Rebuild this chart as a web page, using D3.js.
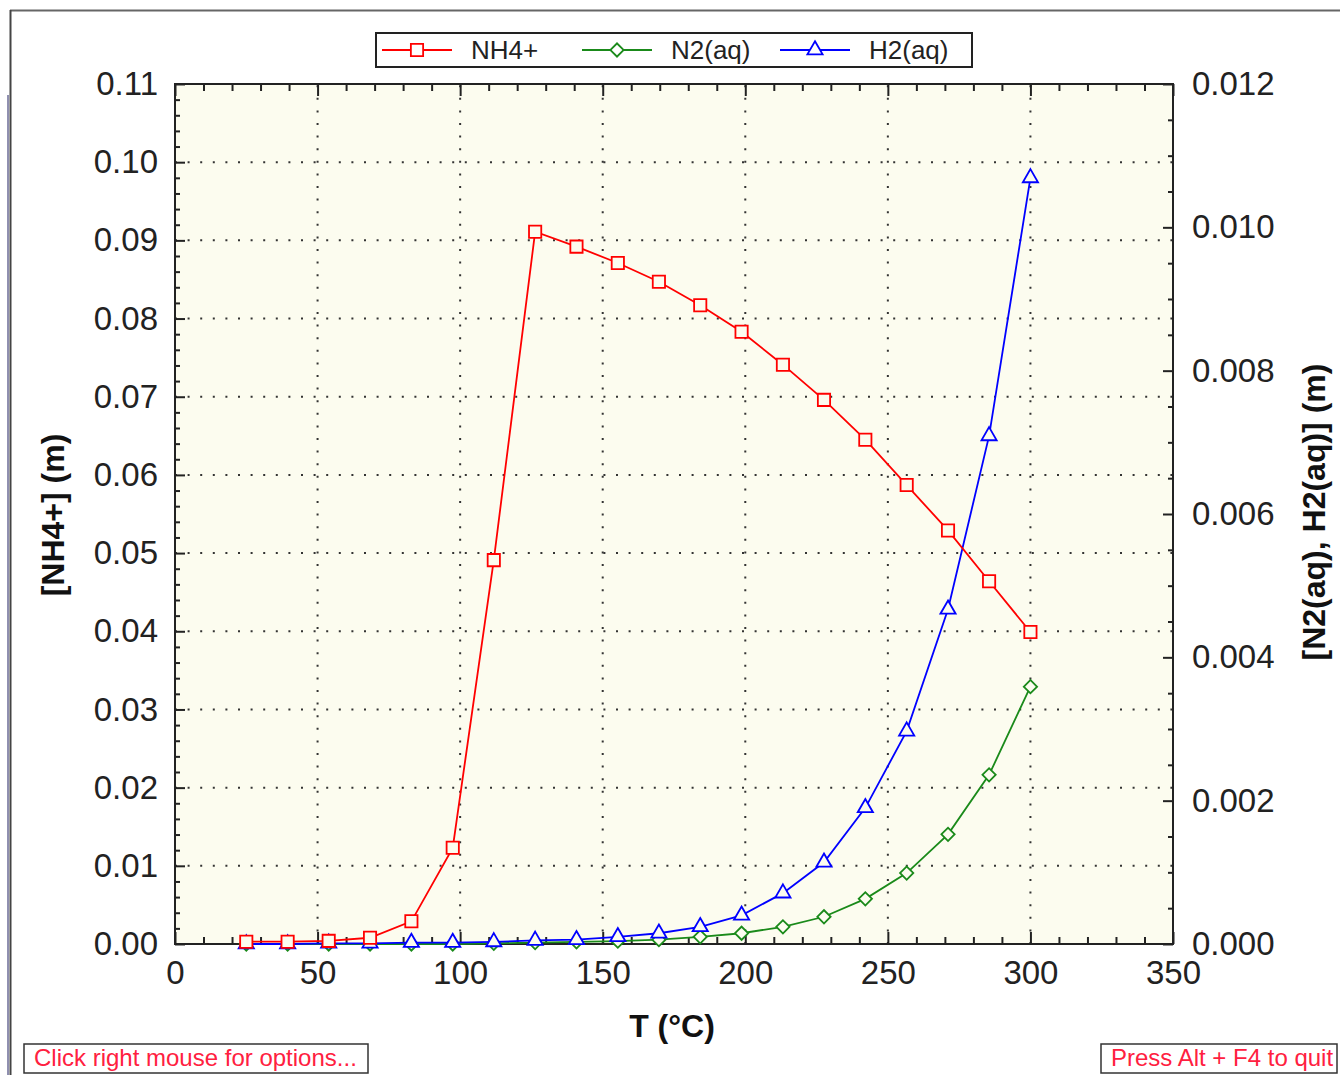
<!DOCTYPE html>
<html>
<head>
<meta charset="utf-8">
<script src="https://cdn.jsdelivr.net/npm/d3@7"></script>
<style>
  html, body { margin: 0; padding: 0; background: #ffffff; }
  svg { display: block; font-family: "Liberation Sans", Arial, sans-serif; }
</style>
</head>
<body>
<svg id="chart" width="1340" height="1075"></svg>
<script>
// ---- data ----
const temperature = [25, 39.5, 53.9, 68.4, 82.9, 97.4, 111.8, 126.3, 140.8, 155.3, 169.7, 184.2, 198.7, 213.2, 227.6, 242.1, 256.6, 271.1, 285.5, 300];
const nh4 = [0.0003, 0.0003, 0.0004, 0.0008, 0.0029, 0.0123, 0.0491, 0.0911, 0.0892, 0.0871, 0.0847, 0.0817, 0.0783, 0.0741, 0.0696, 0.0645, 0.0587, 0.0529, 0.0464, 0.0399];
const n2aq = [0, 0, 0, 0, 0, 0, 0.00001, 0.00002, 0.00003, 0.00004, 0.00006, 0.0001, 0.00015, 0.00024, 0.00038, 0.00063, 0.00099, 0.00153, 0.00236, 0.00359];
const h2aq = [0, 0, 0.00001, 0.00001, 0.00002, 0.00002, 0.00003, 0.00005, 0.00006, 0.0001, 0.00015, 0.00024, 0.0004, 0.00071, 0.00114, 0.0019, 0.00297, 0.00467, 0.00709, 0.01069];
const seriesNames = ["NH4+", "N2(aq)", "H2(aq)"];
const xTicks = [0, 50, 100, 150, 200, 250, 300, 350];
const yLeftTicks = [0, 0.01, 0.02, 0.03, 0.04, 0.05, 0.06, 0.07, 0.08, 0.09, 0.10, 0.11];
const yRightTicks = [0, 0.002, 0.004, 0.006, 0.008, 0.010, 0.012];
const xLabel = "T (°C)";
const yLeftLabel = "[NH4+] (m)";
const yRightLabel = "[N2(aq), H2(aq)] (m)";
const noteLeft = "Click right mouse for options...";
const noteRight = "Press Alt + F4 to quit";

// ---- layout ----
const svg = d3.select("#chart");
const L = 175, R = 1173, T = 84, B = 944;
const bg = "#fcfcef";
const x = d3.scaleLinear().domain([0, 350]).range([L, R]);
const yL = d3.scaleLinear().domain([0, 0.11]).range([B, T]);
const yR = d3.scaleLinear().domain([0, 0.012]).range([B, T]);

// window frame
svg.append("line").attr("x1", 10).attr("x2", 1340).attr("y1", 10.5).attr("y2", 10.5).attr("stroke", "#666").attr("stroke-width", 2);
svg.append("line").attr("x1", 10.5).attr("x2", 10.5).attr("y1", 10).attr("y2", 1075).attr("stroke", "#444").attr("stroke-width", 2);
svg.append("line").attr("x1", 8).attr("x2", 8).attr("y1", 95).attr("y2", 1075).attr("stroke", "#202060").attr("stroke-width", 1);

// plot background
svg.append("rect").attr("x", L).attr("y", T).attr("width", R - L).attr("height", B - T).attr("fill", bg);

// grid
const grid = svg.append("g").attr("stroke", "#333").attr("stroke-width", 2).attr("stroke-dasharray", "2,10.6");
xTicks.filter(d => d > 0 && d < 350).forEach(d => {
  grid.append("line").attr("x1", x(d)).attr("x2", x(d)).attr("y1", B).attr("y2", T);
});
yLeftTicks.filter(d => d > 0 && d < 0.11).forEach(d => {
  grid.append("line").attr("x1", L).attr("x2", R).attr("y1", yL(d)).attr("y2", yL(d));
});

// axes
const tickFont = "33px";
function styleAxis(g) {
  g.select(".domain").remove();
  g.selectAll(".tick line").attr("stroke", "#222").attr("stroke-width", 2);
  g.selectAll("text").attr("fill", "#222").style("font-size", tickFont).style("font-family", "'Liberation Sans', Arial, sans-serif");
}
const xMinor = d3.range(0, 351, 10).filter(d => d % 50 !== 0);
svg.append("g").attr("transform", `translate(0,${B})`)
  .call(d3.axisBottom(x).tickValues(xTicks).tickFormat(d3.format("d")).tickSizeInner(-12).tickSizeOuter(0).tickPadding(17))
  .call(styleAxis);
svg.append("g").attr("transform", `translate(0,${B})`)
  .call(d3.axisBottom(x).tickValues(xMinor).tickFormat("").tickSizeInner(-7).tickSizeOuter(0))
  .call(styleAxis);
svg.append("g").attr("transform", `translate(0,${T})`)
  .call(d3.axisTop(x).tickValues(xTicks).tickFormat("").tickSizeInner(-12).tickSizeOuter(0))
  .call(styleAxis);
svg.append("g").attr("transform", `translate(0,${T})`)
  .call(d3.axisTop(x).tickValues(xMinor).tickFormat("").tickSizeInner(-7).tickSizeOuter(0))
  .call(styleAxis);

const yLMinor = d3.range(0, 56).map(i => i * 0.002).filter((d, i) => i % 5 !== 0);
svg.append("g").attr("transform", `translate(${L},0)`)
  .call(d3.axisLeft(yL).tickValues(yLeftTicks).tickFormat(d3.format(".2f")).tickSizeInner(-10).tickSizeOuter(0).tickPadding(17))
  .call(styleAxis);
svg.append("g").attr("transform", `translate(${L},0)`)
  .call(d3.axisLeft(yL).tickValues(yLMinor).tickFormat("").tickSizeInner(-5).tickSizeOuter(0))
  .call(styleAxis);

const yRMinor = d3.range(0, 25).map(i => i * 0.0005).filter((d, i) => i % 4 !== 0);
svg.append("g").attr("transform", `translate(${R},0)`)
  .call(d3.axisRight(yR).tickValues(yRightTicks).tickFormat(d3.format(".3f")).tickSizeInner(-10).tickSizeOuter(0).tickPadding(19))
  .call(styleAxis);
svg.append("g").attr("transform", `translate(${R},0)`)
  .call(d3.axisRight(yR).tickValues(yRMinor).tickFormat("").tickSizeInner(-5).tickSizeOuter(0))
  .call(styleAxis);

// frame
svg.append("rect").attr("x", L).attr("y", T).attr("width", R - L).attr("height", B - T)
  .attr("fill", "none").attr("stroke", "#222").attr("stroke-width", 2);

// series
const symSquare = d3.symbol().type(d3.symbolSquare).size(150);
const symDiamond = d3.symbol().type(d3.symbolSquare).size(88); // drawn rotated 45°
const symTriangle = d3.symbol().type(d3.symbolTriangle).size(100);
const series = [
  { name: seriesNames[0], values: nh4, scale: yL, color: "#ff0000", sym: symSquare, rot: 0 },
  { name: seriesNames[1], values: n2aq, scale: yR, color: "#1a8a1a", sym: symDiamond, rot: 45 },
  { name: seriesNames[2], values: h2aq, scale: yR, color: "#0000ff", sym: symTriangle, rot: 0 }
];
// draw in order: N2, H2, NH4 on top
[series[1], series[2], series[0]].forEach(s => {
  const pts = temperature.map((t, i) => [t, s.values[i]]);
  const line = d3.line().x(d => x(d[0])).y(d => s.scale(d[1]));
  svg.append("path").datum(pts).attr("d", line).attr("fill", "none")
    .attr("stroke", s.color).attr("stroke-width", 1.8);
  svg.append("g").selectAll("path").data(pts).join("path")
    .attr("d", s.sym)
    .attr("transform", d => `translate(${x(d[0])},${s.scale(d[1])}) rotate(${s.rot})`)
    .attr("fill", bg).attr("stroke", s.color).attr("stroke-width", 1.8);
});

// axis titles
svg.append("text").attr("x", 672).attr("y", 1037).attr("text-anchor", "middle")
  .style("font-size", "32px").style("font-weight", "bold").attr("fill", "#111").text(xLabel);
svg.append("text").attr("transform", "translate(64,515) rotate(-90)").attr("text-anchor", "middle")
  .style("font-size", "32px").style("font-weight", "bold").attr("fill", "#111").text(yLeftLabel);
svg.append("text").attr("transform", "translate(1325,512) rotate(-90)").attr("text-anchor", "middle")
  .style("font-size", "32px").style("font-weight", "bold").attr("fill", "#111").text(yRightLabel);

// legend
const lg = svg.append("g");
lg.append("rect").attr("x", 376).attr("y", 33).attr("width", 596).attr("height", 34)
  .attr("fill", "#ffffff").attr("stroke", "#222").attr("stroke-width", 2);
const legendX = [382, 582, 780];
series.forEach((s, i) => {
  const x0 = legendX[i];
  lg.append("line").attr("x1", x0).attr("x2", x0 + 70).attr("y1", 50).attr("y2", 50)
    .attr("stroke", s.color).attr("stroke-width", 1.8);
  lg.append("path").attr("d", s.sym).attr("transform", `translate(${x0 + 35},50) rotate(${s.rot})`)
    .attr("fill", "#ffffff").attr("stroke", s.color).attr("stroke-width", 1.8);
  lg.append("text").attr("x", x0 + 89).attr("y", 59).style("font-size", "26px").attr("fill", "#222").text(s.name);
});

// bottom notes
svg.append("rect").attr("x", 24).attr("y", 1044).attr("width", 344).attr("height", 29)
  .attr("fill", "#fff").attr("stroke", "#333").attr("stroke-width", 1.5);
svg.append("text").attr("x", 34).attr("y", 1066).style("font-size", "24px").attr("fill", "#ff2040").text(noteLeft);
svg.append("rect").attr("x", 1101).attr("y", 1044).attr("width", 236).attr("height", 29)
  .attr("fill", "#fff").attr("stroke", "#333").attr("stroke-width", 1.5);
svg.append("text").attr("x", 1111).attr("y", 1066).style("font-size", "24px").attr("fill", "#ff2040").text(noteRight);
</script>
</body>
</html>
